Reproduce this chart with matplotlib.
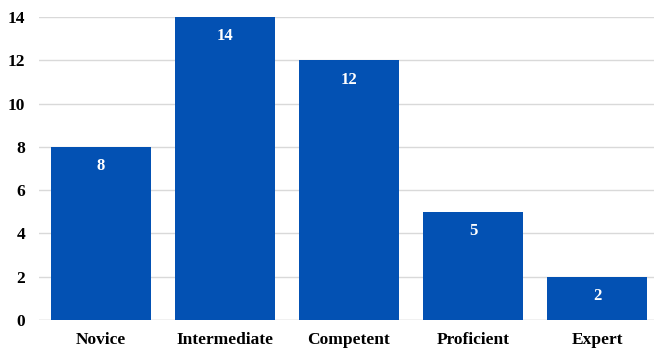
import matplotlib.pyplot as plt

levels = ["Novice", "Intermediate", "Competent", "Proficient", "Expert"]
counts = [8, 14, 12, 5, 2]
y_ticks = [0, 2, 4, 6, 8, 10, 12, 14]

plt.rcParams['font.family'] = ['Liberation Serif', 'DejaVu Serif']

fig = plt.figure(figsize=(6.54, 3.51), dpi=100)
ax = fig.add_axes([39 / 654, 31 / 351, 1 - 39 / 654, 303 / 351])

x = range(len(levels))
bars = ax.bar(x, counts, width=0.8, color="#0351B3", zorder=3)

for rect, val in zip(bars, counts):
    ax.annotate(str(val), (rect.get_x() + rect.get_width() / 2, val),
                xytext=(0, -14), textcoords="offset points",
                ha="center", va="center", color="white",
                fontsize=12, fontweight="bold", zorder=4)

ax.set_xlim(-0.5, 4.46)
ax.set_ylim(0, 14)
ax.set_yticks(y_ticks)
ax.set_xticks(list(x))
ax.set_xticklabels(levels)
ax.yaxis.grid(True, color="#D9D9D9", linewidth=1, zorder=0)
ax.tick_params(length=0, labelsize=12.5)
ax.tick_params(axis='x', pad=9)
ax.tick_params(axis='y', pad=10)
for lbl in ax.get_xticklabels() + ax.get_yticklabels():
    lbl.set_fontweight("bold")
for s in ax.spines.values():
    s.set_visible(False)
ax.axhline(0, color="#D9D9D9", linewidth=1, zorder=1)

fig.savefig("out.png", dpi=100)
